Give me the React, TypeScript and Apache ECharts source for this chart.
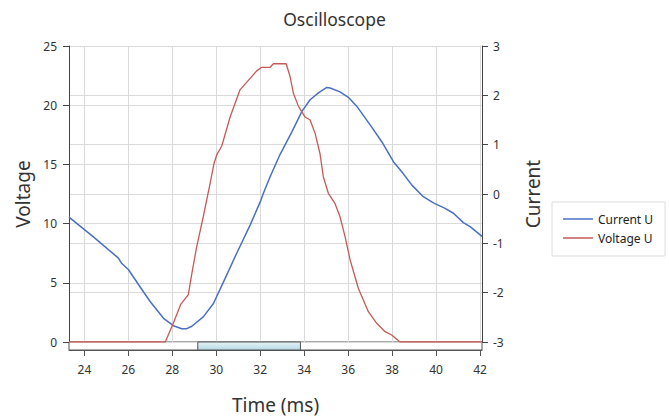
import React, { useEffect, useRef } from "react";
import * as echarts from "echarts";

const titleText = "Oscilloscope";
const xTicks = [24, 26, 28, 30, 32, 34, 36, 38, 40, 42];
const xMin = 23.3;
const xMax = 42.09;

const timeV = [23.3, 27.68, 28.05, 28.39, 28.73, 28.89, 29.11, 29.41, 29.72, 29.9, 30.02, 30.25, 30.63, 31.08, 31.46, 31.84, 32.07, 32.45, 32.6, 33.18, 33.36, 33.51, 33.74, 34.04, 34.27, 34.5, 34.72, 34.87, 35.1, 35.4, 35.63, 35.86, 36.09, 36.47, 36.92, 37.3, 37.68, 37.98, 38.36, 42.09];
const voltage = [0, 0, 1.6, 3.2, 4.0, 5.8, 8.05, 10.6, 13.4, 15.1, 15.8, 16.55, 19.0, 21.3, 22.1, 22.9, 23.2, 23.2, 23.5, 23.5, 22.4, 21.0, 19.9, 19.0, 18.75, 17.6, 15.9, 13.96, 12.56, 11.7, 10.58, 8.9, 6.93, 4.5, 2.56, 1.58, 0.87, 0.59, 0, 0];

const timeI = [23.3, 24.41, 25.55, 25.7, 26.0, 26.53, 26.99, 27.6, 28.05, 28.43, 28.66, 28.89, 29.41, 29.87, 30.33, 30.93, 31.54, 32.0, 32.14, 32.45, 32.9, 33.44, 33.89, 34.27, 34.65, 35.03, 35.18, 35.63, 36.01, 36.39, 37.0, 37.53, 38.06, 38.44, 38.9, 39.42, 39.88, 40.41, 40.79, 41.24, 41.55, 42.09];
const current = [-0.47, -0.87, -1.3, -1.41, -1.53, -1.88, -2.18, -2.52, -2.67, -2.73, -2.73, -2.68, -2.49, -2.22, -1.78, -1.2, -0.63, -0.16, 0.01, 0.35, 0.8, 1.26, 1.67, 1.91, 2.05, 2.16, 2.15, 2.07, 1.96, 1.78, 1.4, 1.06, 0.655, 0.45, 0.18, -0.055, -0.18, -0.29, -0.39, -0.58, -0.66, -0.86];

const rangeStart = 29.16;
const rangeEnd = 33.83;

const FONT = "Noto Sans";

export default function App() {
  const ref = useRef<HTMLDivElement>(null);
  useEffect(() => {
    if (!ref.current) return;
    const chart = echarts.init(ref.current, null, { renderer: "svg" });
    const gridLine = { show: true, lineStyle: { color: "#dadada", width: 1 } };
    chart.setOption({
      animation: false,
      backgroundColor: "#ffffff",
      textStyle: { fontFamily: FONT },
      title: {
        text: titleText,
        left: "center",
        top: 5,
        textStyle: { fontFamily: FONT, fontSize: 17.5, fontWeight: "normal", color: "#333" },
      },
      legend: {
        orient: "vertical",
        left: 552,
        top: 202,
        padding: [11, 12, 12, 11],
        itemGap: 7,
        itemWidth: 30,
        itemHeight: 1.5,
        icon: "rect",
        borderColor: "#dcdcdc",
        borderWidth: 1,
        textStyle: { fontFamily: FONT, fontSize: 12, color: "#222" },
        data: ["Current U", "Voltage U"],
      },
      grid: [
        { left: 69, right: 187, top: 46, bottom: 75, containLabel: false },
        { left: 69, right: 187, top: 342, height: 8, show: true, borderColor: "#555", borderWidth: 1, backgroundColor: "#fff" },
      ],
      xAxis: [
        {
          type: "value",
          gridIndex: 0,
          min: xMin,
          max: xMax,
          axisLine: { show: false },
          axisLabel: { show: false },
          axisTick: { show: false, customValues: xTicks },
          splitLine: gridLine,
        },
        {
          type: "value",
          gridIndex: 1,
          min: xMin,
          max: xMax,
          axisLine: { show: true, lineStyle: { color: "#555" } },
          axisTick: { show: true, length: 6, lineStyle: { color: "#555" }, customValues: xTicks },
          axisLabel: { fontFamily: FONT, fontSize: 12, color: "#333", margin: 13, customValues: xTicks },
          splitLine: { show: false },
          name: "Time (ms)",
          nameLocation: "middle",
          nameGap: 45,
          nameTextStyle: { fontFamily: FONT, fontSize: 19, color: "#333" },
        },
      ],
      yAxis: [
        {
          type: "value",
          gridIndex: 0,
          min: 0,
          max: 25,
          interval: 5,
          axisLine: { show: true, lineStyle: { color: "#444" } },
          axisTick: { show: true, length: 6, lineStyle: { color: "#444" } },
          axisLabel: { fontFamily: FONT, fontSize: 12, color: "#333", margin: 12 },
          splitLine: gridLine,
          name: "Voltage",
          nameLocation: "middle",
          nameGap: 37,
          nameTextStyle: { fontFamily: FONT, fontSize: 19, color: "#333" },
        },
        {
          type: "value",
          gridIndex: 0,
          position: "right",
          min: -3,
          max: 3,
          interval: 1,
          axisLine: { show: true, lineStyle: { color: "#444" } },
          axisTick: { show: true, length: 6, lineStyle: { color: "#444" } },
          axisLabel: { fontFamily: FONT, fontSize: 12, color: "#333", margin: 11 },
          splitLine: gridLine,
          name: "Current",
          nameLocation: "middle",
          nameGap: 41,
          nameTextStyle: { fontFamily: FONT, fontSize: 19, color: "#333" },
        },
        {
          type: "value",
          gridIndex: 1,
          min: 0,
          max: 1,
          show: false,
        },
      ],
      series: [
        {
          name: "range",
          type: "line",
          xAxisIndex: 1,
          yAxisIndex: 2,
          showSymbol: false,
          symbol: "none",
          lineStyle: { opacity: 0 },
          data: [[rangeStart, 0.5], [rangeEnd, 0.5]],
          markArea: {
            silent: true,
            itemStyle: {
              color: new echarts.graphic.LinearGradient(0, 0, 0, 1, [
                { offset: 0, color: "#e8f4f8" },
                { offset: 1, color: "#b5d9e4" },
              ]),
              borderColor: "#555",
              borderWidth: 1,
            },
            data: [[{ xAxis: rangeStart, yAxis: 0 }, { xAxis: rangeEnd, yAxis: 1 }]],
          },
        },
        {
          name: "Current U",
          type: "line",
          xAxisIndex: 0,
          yAxisIndex: 1,
          showSymbol: false,
          symbol: "none",
          color: "#4a70c4",
          lineStyle: { width: 1.5, color: "#4a70c4" },
          data: timeI.map((t, i) => [t, current[i]]),
        },
        {
          name: "Voltage U",
          type: "line",
          xAxisIndex: 0,
          yAxisIndex: 0,
          showSymbol: false,
          symbol: "none",
          color: "#c55a57",
          lineStyle: { width: 1.3, color: "#c55a57" },
          data: timeV.map((t, i) => [t, voltage[i]]),
        },
      ],
    });
    return () => chart.dispose();
  }, []);
  return <div ref={ref} style={{ width: 669, height: 417, position: "absolute", left: 0, top: 0 }} />;
}
